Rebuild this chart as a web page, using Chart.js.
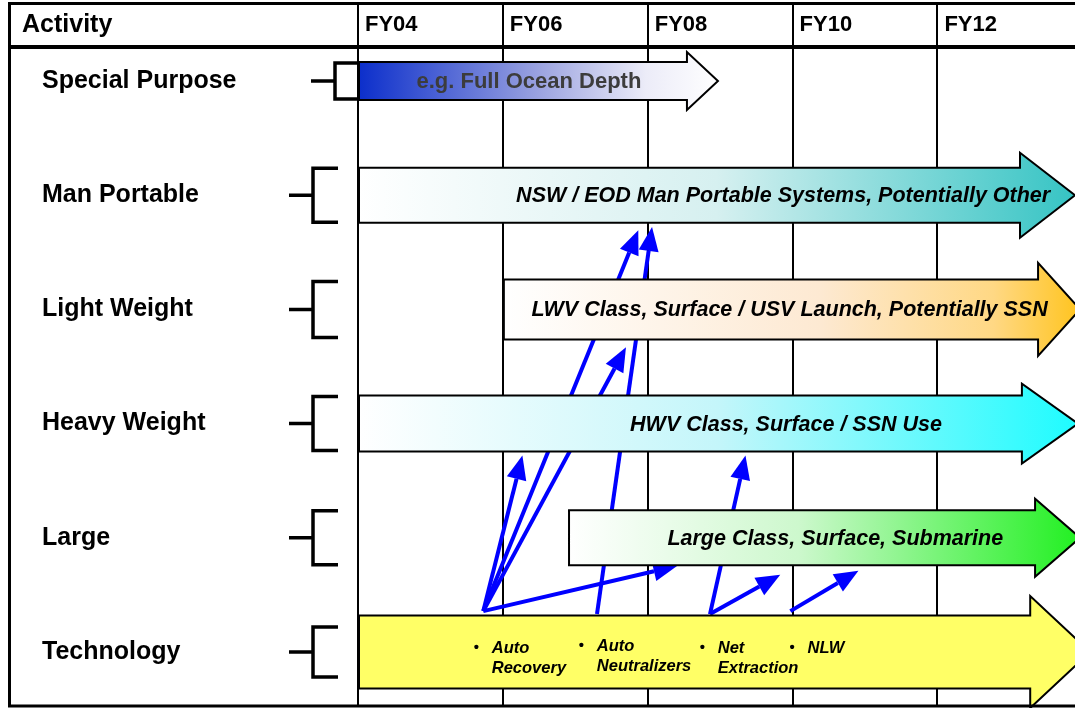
<!DOCTYPE html>
<html lang="en">
<head>
<meta charset="UTF-8">
<title>Activity Roadmap</title>
<style>
  html, body { margin: 0; padding: 0; background: #fff; }
  #wrap { width: 1075px; height: 708px; overflow: hidden; }
</style>
</head>
<body>
<div id="wrap"><canvas id="roadmap" width="1075" height="708"></canvas></div>

<script src="https://cdn.jsdelivr.net/npm/chart.js"></script>
<script>
// rows, top to bottom
const activities = ['Special Purpose', 'Man Portable', 'Light Weight', 'Heavy Weight', 'Large', 'Technology'];
// each bar runs from a start year to the tip of its arrow
const barStart = [2004, 2004, 2006, 2004, 2006.9, 2004];
const barEnd = [2008.97, 2013.9, 2013.97, 2013.94, 2013.97, 2014.11];
const barText = [
  'e.g. Full Ocean Depth',
  'NSW / EOD Man Portable Systems, Potentially Other',
  'LWV Class, Surface / USV Launch, Potentially SSN',
  'HWV Class, Surface / SSN Use',
  'Large Class, Surface, Submarine',
  ''
];

const fiscalYears = [2004, 2006, 2008, 2010, 2012];
const yearLabels = ['FY04', 'FY06', 'FY08', 'FY10', 'FY12'];

// technology items sitting in the bottom bar
const techItems = [['Auto', 'Recovery'], ['Auto', 'Neutralizers'], ['Net', 'Extraction'], ['NLW']];
const techYear = [2005.64, 2007.09, 2008.76, 2010.0];

// blue links: (year, row) -> (year, row)
const linkFromX = [2005.73, 2005.73, 2005.73, 2005.73, 2007.3, 2008.86, 2008.86, 2009.97];
const linkFromY = [4.642, 4.642, 4.642, 4.642, 4.668, 4.668, 4.668, 4.642];
const linkToX = [2006.27, 2007.87, 2007.7, 2008.41, 2008.06, 2009.35, 2009.83, 2010.91];
const linkToY = [3.279, 1.306, 2.332, 4.245, 1.279, 3.279, 4.323, 4.288];

const FONT = '"Liberation Sans", Arial, Helvetica, sans-serif';

// drawing style of the block arrows (pixels)
const look = {
  bodyH: [38, 55, 60, 56, 55, 73],
  headH: [58, 85, 93, 80, 78, 112],
  headL: [31, 55, 42, 56, 45, 60],
  textAt: [2006.36, 2009.87, 2009.96, 2009.91, 2010.59, null],
  stops: [
    [[0, '#0b2ecb'], [0.5, '#9aa2e0'], [0.8, '#ececf8'], [1, '#ffffff']],
    [[0, '#ffffff'], [0.5, '#d6f0f0'], [1, '#36c4c4']],
    [[0, '#ffffff'], [0.55, '#fde9d2'], [0.85, '#ffd884'], [1, '#ffc41e']],
    [[0, '#ffffff'], [0.5, '#c4f6fa'], [1, '#1efcff']],
    [[0, '#ffffff'], [0.45, '#cdf8cd'], [1, '#22f022']],
    [[0, '#ffff66'], [1, '#ffff66']]
  ],
  bracketShift: [22, 0, 0, 0, 0, 0],
  bracketHalf: [18, 27, 28, 27, 27, 25]
};

function blockArrow(ctx, x0, x1, y, bh, hh, hl) {
  const xb = x1 - hl;
  ctx.beginPath();
  ctx.moveTo(x0, y - bh / 2);
  ctx.lineTo(xb, y - bh / 2);
  ctx.lineTo(xb, y - hh / 2);
  ctx.lineTo(x1, y);
  ctx.lineTo(xb, y + hh / 2);
  ctx.lineTo(xb, y + bh / 2);
  ctx.lineTo(x0, y + bh / 2);
  ctx.closePath();
}

function linkArrow(ctx, x0, y0, x1, y1) {
  const a = Math.atan2(y1 - y0, x1 - x0);
  const len = 24, half = 10;
  const bx = x1 - len * Math.cos(a), by = y1 - len * Math.sin(a);
  ctx.beginPath();
  ctx.moveTo(x0, y0);
  ctx.lineTo(bx, by);
  ctx.stroke();
  ctx.beginPath();
  ctx.moveTo(x1, y1);
  ctx.lineTo(bx + half * Math.sin(a), by - half * Math.cos(a));
  ctx.lineTo(bx - half * Math.sin(a), by + half * Math.cos(a));
  ctx.closePath();
  ctx.fill();
}

const roadmapPlugin = {
  id: 'roadmap',
  beforeDraw(chart) {
    const ctx = chart.ctx;
    ctx.save();
    ctx.fillStyle = '#fff';
    ctx.fillRect(0, 0, chart.width, chart.height);
    ctx.restore();
  },
  beforeDatasetsDraw(chart) {
    // links go under the bars
    const {ctx, scales: {x, y}} = chart;
    ctx.save();
    ctx.strokeStyle = '#0000ff';
    ctx.fillStyle = '#0000ff';
    ctx.lineWidth = 4;
    linkFromX.forEach((fx, i) => {
      linkArrow(ctx,
        x.getPixelForValue(fx), y.getPixelForValue(linkFromY[i]),
        x.getPixelForValue(linkToX[i]), y.getPixelForValue(linkToY[i]));
    });
    ctx.restore();
  },
  afterDatasetsDraw(chart) {
    const {ctx, scales: {x}} = chart;
    const meta = chart.getDatasetMeta(0);
    ctx.save();
    meta.data.forEach((bar, i) => {
      const {x: x1, base: x0, y: cy} = bar.getProps(['x', 'base', 'y'], true);
      const g = ctx.createLinearGradient(x0, 0, x1, 0);
      look.stops[i].forEach(([p, c]) => g.addColorStop(p, c));
      blockArrow(ctx, x0 + 1, x1, cy, look.bodyH[i], look.headH[i], look.headL[i]);
      ctx.fillStyle = g;
      ctx.fill();
      ctx.lineWidth = 2;
      ctx.strokeStyle = '#000';
      ctx.stroke();

      if (barText[i]) {
        ctx.fillStyle = i === 0 ? '#3c3c3c' : '#000';
        ctx.font = i === 0 ? 'bold 22px ' + FONT : 'italic bold 21.5px ' + FONT;
        ctx.textAlign = 'center';
        ctx.textBaseline = 'middle';
        ctx.fillText(barText[i], x.getPixelForValue(look.textAt[i]), cy + 1);
      }
    });

    // technology bullets
    const tech = meta.data[5];
    const ty = tech.getProps(['y'], true).y;
    ctx.fillStyle = '#000';
    ctx.textAlign = 'left';
    ctx.textBaseline = 'middle';
    techItems.forEach((lines, i) => {
      const bx = x.getPixelForValue(techYear[i]);
      const dy = i === 1 ? -2 : 0;
      ctx.font = 'bold 15px ' + FONT;
      ctx.fillText('\u2022', bx - 3, ty - 4 + dy);
      ctx.font = 'italic bold 16.5px ' + FONT;
      lines.forEach((t, k) => ctx.fillText(t, bx + 15, ty - 4 + dy + k * 20));
    });
    ctx.restore();
  },
  afterDraw(chart) {
    const {ctx, chartArea: area, scales: {y}} = chart;
    const L = area.left;
    ctx.save();
    ctx.strokeStyle = '#000';

    // brackets between labels and bars
    ctx.lineWidth = 3.5;
    activities.forEach((_, i) => {
      const cy = y.getPixelForValue(i);
      const s = look.bracketShift[i], h = look.bracketHalf[i];
      const vx = L - 45 + s;
      ctx.beginPath();
      ctx.moveTo(L - 69 + s, cy);
      ctx.lineTo(vx, cy);
      ctx.moveTo(L - 20 + s, cy - h);
      ctx.lineTo(vx, cy - h);
      ctx.lineTo(vx, cy + h);
      ctx.lineTo(L - 20 + s, cy + h);
      ctx.stroke();
    });

    // frame and header
    ctx.lineWidth = 3;
    ctx.beginPath();
    ctx.moveTo(chart.width, 3.5);
    ctx.lineTo(9.5, 3.5);
    ctx.lineTo(9.5, 706);
    ctx.lineTo(chart.width, 706);
    ctx.stroke();
    ctx.lineWidth = 4;
    ctx.beginPath();
    ctx.moveTo(9.5, area.top);
    ctx.lineTo(chart.width, area.top);
    ctx.stroke();

    ctx.fillStyle = '#000';
    ctx.font = 'bold 25px ' + FONT;
    ctx.textAlign = 'left';
    ctx.textBaseline = 'middle';
    ctx.fillText('Activity', 22, 25);
    ctx.restore();
  }
};

new Chart(document.getElementById('roadmap'), {
  type: 'bar',
  data: {
    datasets: [{
      data: activities.map((_, i) => ({ y: i, x: [barStart[i], barEnd[i]] })),
      backgroundColor: 'rgba(0,0,0,0)',
      borderWidth: 0,
      barThickness: 56
    }]
  },
  options: {
    indexAxis: 'y',
    responsive: false,
    animation: false,
    devicePixelRatio: 1,
    layout: { padding: { left: 42, top: 0, right: 0, bottom: 2 } },
    plugins: { legend: { display: false }, tooltip: { enabled: false } },
    scales: {
      x: {
        type: 'linear',
        position: 'top',
        min: 2004,
        max: 2013.9,
        afterFit(scale) {
          scale.height = 47;
          scale.paddingLeft = 0;
          scale.paddingRight = 0;
        },
        grid: { color: '#000', lineWidth: 2, drawTicks: true, tickLength: 42 },
        border: { display: false },
        ticks: {
          stepSize: 2,
          includeBounds: false,
          align: 'start',
          labelOffset: 7,
          padding: -33,
          color: '#000',
          font: { family: FONT, size: 22, weight: 'bold' },
          callback: (v) => yearLabels[fiscalYears.indexOf(v)] ?? ''
        }
      },
      y: {
        type: 'linear',
        reverse: true,
        offset: false,
        min: -0.298,
        max: 5.473,
        afterFit(scale) {
          scale.width = 316;
          scale.paddingTop = 0;
          scale.paddingBottom = 0;
        },
        grid: { display: false, offset: false },
        border: { display: false },
        ticks: {
          stepSize: 1,
          includeBounds: false,
          crossAlign: 'far',
          color: '#000',
          font: { family: FONT, size: 25, weight: 'bold' },
          callback: (v) => Number.isInteger(v) ? activities[v] : ''
        }
      }
    }
  },
  plugins: [roadmapPlugin]
});
</script>
</body>
</html>
